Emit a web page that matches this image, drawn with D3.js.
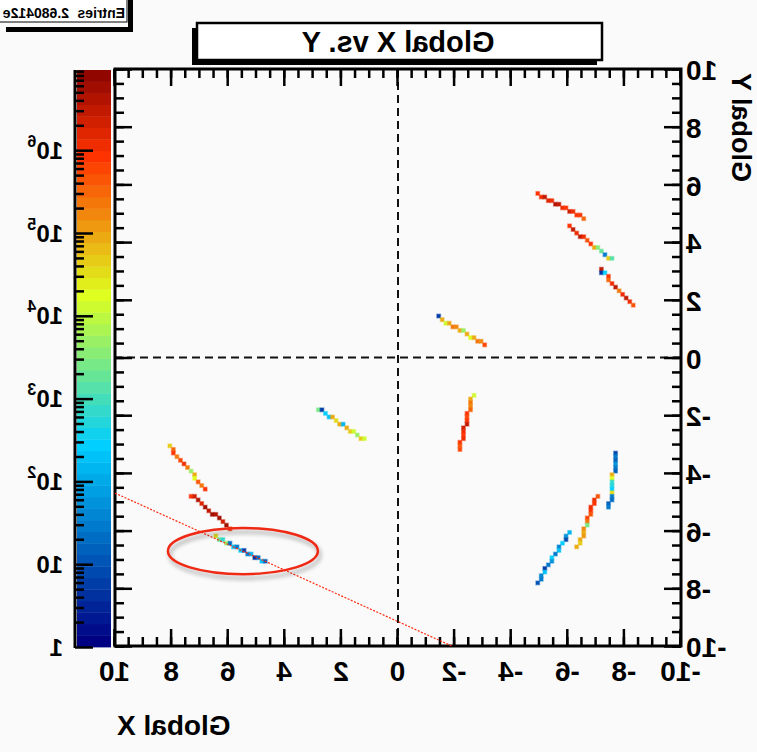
<!DOCTYPE html>
<html><head><meta charset="utf-8">
<script src="https://cdn.jsdelivr.net/npm/d3@7"></script>
<style>
body{margin:0;background:#fafafa}
text{font-family:"Liberation Sans",Arial,Helvetica,sans-serif;font-weight:bold;fill:#000}
</style>
</head><body>
<svg id="c" width="757" height="752"></svg>
<script>
// ---------------- data ----------------
const titleText = "Global X vs. Y";
const xTitle = "Global X";
const yTitle = "Global Y";
const statsLabel = "Entries";
const statsValue = "2.680412e";
const xTickLabels = [-10,-8,-6,-4,-2,0,2,4,6,8,10];
const yTickLabels = [-10,-8,-6,-4,-2,0,2,4,6,8,10];
const zTickLabels = [1,10,1e2,1e3,1e4,1e5,1e6];
const zRange = [1, 9.3e6];
const binWidth = 0.125;

// cells: [x low edge, y low edge, entries]
const track1 = [[-5.0,5.625,8e5],[-5.125,5.5,1e6],[-5.25,5.5,3e6],[-5.375,5.375,1.5e6],[-5.5,5.375,1e6],[-5.625,5.25,4e6],[-5.75,5.25,3e6],[-5.875,5.125,1e6],[-6.0,5.125,8e5],[-6.125,5.0,2e6],[-6.25,5.0,1e6],[-6.375,4.875,8e5],[-6.5,4.875,8e5],[-6.625,4.75,3e5]];
const track2 = [[-6.125,4.5,8e5],[-6.25,4.375,3e6],[-6.375,4.25,1e6],[-6.5,4.125,3e6],[-6.625,4.125,1e6],[-6.75,4.0,5e5],[-6.875,3.875,8e5],[-7.0,3.75,1e5],[-7.125,3.75,4e3],[-7.25,3.625,2e3],[-7.375,3.5,30],[-7.5,3.375,4e4],[-7.625,3.375,1.5e3]];
const track3 = [[-7.25,3.0,3e6],[-7.25,2.875,4],[-7.375,2.875,300],[-7.5,2.75,8e5],[-7.5,2.625,3e5],[-7.625,2.5,1e6],[-7.75,2.375,3e6],[-7.875,2.25,2e5],[-8.0,2.125,1e6],[-8.125,2.0,3e6],[-8.25,1.875,1e6],[-8.375,1.75,5e5]];
const track4 = [[-1.5,1.375,5],[-1.625,1.25,1e5],[-1.75,1.125,1.5e4],[-1.875,1.125,1e5],[-2.0,1.0,2e5],[-2.125,1.0,1.5e5],[-2.25,0.875,1e5],[-2.375,0.875,5e3],[-2.5,0.75,1e5],[-2.625,0.625,2e4],[-2.75,0.625,1e5],[-2.875,0.5,2e5],[-3.0,0.5,1.5e5],[-3.125,0.375,6e5]];
const track5 = [[2.75,-1.875,3e3],[2.625,-1.875,5],[2.5,-2.0,300],[2.375,-2.125,200],[2.25,-2.125,1e5],[2.125,-2.25,3e4],[2.0,-2.375,8e4],[1.875,-2.375,150],[1.75,-2.5,1e5],[1.625,-2.625,5e4],[1.5,-2.625,1.5e4],[1.375,-2.75,5e3],[1.25,-2.875,5e4],[1.125,-2.875,1.2e4]];
const track6 = [[8.0,-3.125,5e4],[7.875,-3.25,3e5],[7.875,-3.375,8e5],[7.75,-3.5,2e5],[7.625,-3.625,6e5],[7.5,-3.75,1e6],[7.375,-3.875,2e5],[7.25,-4.0,5e3],[7.125,-4.125,1e5],[7.125,-4.25,2e4],[7.0,-4.375,5e5],[6.875,-4.5,2e5],[6.75,-4.625,8e5]];
const track7 = [[7.25,-4.875,8e5],[7.125,-4.875,2e6],[7.0,-5.0,4e6],[6.875,-5.125,1.5e6],[6.75,-5.25,5e6],[6.625,-5.375,3e6],[6.5,-5.5,5e6],[6.375,-5.5,4e6],[6.25,-5.625,6e6],[6.125,-5.75,2e6],[6.0,-5.875,5e6],[5.875,-6.0,1e6]];
const track8 = [[6.375,-6.25,3e4],[6.25,-6.375,2e3],[6.125,-6.375,800],[6.0,-6.5,5e3],[5.875,-6.5,20],[5.75,-6.625,200],[5.625,-6.625,30],[5.5,-6.75,300],[5.375,-6.75,5],[5.25,-6.875,30],[5.125,-6.875,150],[5.0,-7.0,4],[4.875,-7.0,20],[4.75,-7.125,200],[4.625,-7.125,15]];
const track9 = [[-2.75,-1.375,1.5e4],[-2.625,-1.5,1e5],[-2.625,-1.625,2e5],[-2.625,-1.75,1.5e5],[-2.625,-1.875,3e5],[-2.5,-2.0,8e5],[-2.5,-2.125,6e5],[-2.5,-2.25,8e5],[-2.5,-2.375,3e6],[-2.375,-2.5,2e6],[-2.375,-2.625,1e6],[-2.375,-2.75,8e5],[-2.375,-2.875,1e6],[-2.25,-3.0,8e5],[-2.25,-3.125,5e5],[-2.25,-3.25,6e5]];
const track10 = [[-7.75,-3.375,8],[-7.75,-3.5,30],[-7.75,-3.625,15],[-7.75,-3.75,60],[-7.75,-3.875,30],[-7.75,-4.0,15],[-7.625,-4.125,1e5],[-7.625,-4.25,2e4],[-7.625,-4.375,800],[-7.625,-4.5,600],[-7.625,-4.625,300],[-7.625,-4.75,3e4],[-7.625,-4.875,30],[-7.625,-5.0,20],[-7.5,-5.125,15],[-7.5,-5.25,25]];
const track11 = [[-7.125,-4.875,5e5],[-7.0,-5.0,1e6],[-7.0,-5.125,8e5],[-6.875,-5.25,1e6],[-6.875,-5.375,8e5],[-6.875,-5.5,5e5],[-6.75,-5.625,6e5],[-6.75,-5.75,2e5],[-6.75,-5.875,3e3],[-6.625,-6.0,1.5e5],[-6.625,-6.125,1e5],[-6.625,-6.25,1.2e5],[-6.5,-6.375,8e4],[-6.5,-6.5,4e4],[-6.375,-6.625,1e5]];
const track12 = [[-6.125,-6.125,150],[-6.0,-6.25,60],[-6.0,-6.375,8],[-5.875,-6.5,300],[-5.75,-6.625,40],[-5.75,-6.75,200],[-5.625,-6.875,30],[-5.5,-7.0,250],[-5.5,-7.125,50],[-5.375,-7.25,30],[-5.25,-7.375,6],[-5.25,-7.5,200],[-5.125,-7.625,40],[-5.125,-7.75,30],[-5.0,-7.875,10]];
const tracks = [track1,track2,track3,track4,track5,track6,track7,track8,track9,track10,track11,track12];

// annotation (data coordinates)
const markerLine = [[10,-4.70],[-1.9,-10]];
const markerEllipse = {cx:5.48, cy:-6.71, rx:2.65, ry:0.80};

// ---------------- drawing ----------------
const W = 757, H = 752;
const svg = d3.select('#c');
svg.append('rect').attr('width',W).attr('height',H).attr('fill','#fafafa');
const defs = svg.append('defs');
const flt = defs.append('filter').attr('id','sh').attr('x','-20%').attr('y','-60%').attr('width','140%').attr('height','220%');
flt.append('feDropShadow').attr('dx',-2).attr('dy',4).attr('stdDeviation',2)
   .attr('flood-color','#000').attr('flood-opacity',0.35);

// whole picture is mirrored horizontally
const g = svg.append('g').attr('transform',`translate(${W},0) scale(-1,1)`);

const X0 = 76, X1 = 642, Y0 = 69, Y1 = 646;
const x = d3.scaleLinear().domain([-10,10]).range([X0,X1]);
const y = d3.scaleLinear().domain([-10,10]).range([Y1,Y0]);
const zTop = 70, zBot = 647;
const z = d3.scaleLog().domain(zRange).range([zBot,zTop]);

// ROOT-like 50 colour gradient palette
const stops=[0,.34,.61,.84,1], R=[0,0,.87,1,.51], Gc=[0,.81,1,.2,0], Bc=[.51,1,.12,0,0];
const palette=[];
(function(){
  const nc = 50; let prev = 0;
  for (let s=1;s<stops.length;s++){
    const cur = Math.floor(nc*stops[s]+1e-9);
    const n = cur - prev; prev = cur;
    for (let c=0;c<n;c++){
      palette.push(d3.rgb(255*(R[s-1]+c*(R[s]-R[s-1])/n),255*(Gc[s-1]+c*(Gc[s]-Gc[s-1])/n),255*(Bc[s-1]+c*(Bc[s]-Bc[s-1])/n)).formatHex());
    }
  }
})();
const lz0 = Math.log10(zRange[0]), lz1 = Math.log10(zRange[1]);
const colorOf = v => palette[Math.max(0,Math.min(49,Math.floor(0.01+50*(Math.log10(v)-lz0)/(lz1-lz0))))];

// cells (soft halo mimics the reference's anti-aliasing)
const cells = g.append('g');
tracks.forEach(tr=>{
  cells.selectAll(null).data(tr).enter().append('rect')
    .attr('x',d=>x(d[0])).attr('y',d=>y(d[1]+binWidth))
    .attr('width',d=>x(d[0]+binWidth)-x(d[0]))
    .attr('height',d=>y(d[1])-y(d[1]+binWidth))
    .attr('fill',d=>colorOf(d[2]))
    .attr('stroke',d=>colorOf(d[2])).attr('stroke-opacity',0.45).attr('stroke-width',1.4);
});

// zero lines
g.append('line').attr('x1',x(0)).attr('x2',x(0)).attr('y1',Y0).attr('y2',Y1)
  .attr('stroke','#111').attr('stroke-width',2).attr('stroke-dasharray','8,5');
g.append('line').attr('x1',X0).attr('x2',X1).attr('y1',y(0)).attr('y2',y(0))
  .attr('stroke','#111').attr('stroke-width',2).attr('stroke-dasharray','8,5');

// axes
function styleAxis(sel){ sel.select('.domain').remove(); sel.selectAll('line').attr('stroke','#000').attr('stroke-width',2.5); }
const xMinor = x.ticks(40), yMinor = y.ticks(40);
g.append('g').attr('transform',`translate(0,${Y1})`).call(d3.axisBottom(x).tickValues(xMinor).tickSize(-9).tickSizeOuter(0).tickFormat('')).call(styleAxis);
g.append('g').attr('transform',`translate(0,${Y0})`).call(d3.axisTop(x).tickValues(xMinor).tickSize(-9).tickSizeOuter(0).tickFormat('')).call(styleAxis);
g.append('g').attr('transform',`translate(0,${Y0})`).call(d3.axisTop(x).tickValues(xTickLabels).tickSize(-17).tickSizeOuter(0).tickFormat('')).call(styleAxis);
const xa = g.append('g').attr('transform',`translate(0,${Y1})`).call(d3.axisBottom(x).tickValues(xTickLabels).tickSize(-17).tickSizeOuter(0).tickPadding(15).tickFormat(d=>String(d))).call(styleAxis);
xa.selectAll('text').attr('font-size',28).attr('font-family','"Liberation Sans",Arial,sans-serif').attr('font-weight','bold').attr('fill','#000');

g.append('g').attr('transform',`translate(${X0},0)`).call(d3.axisLeft(y).tickValues(yMinor).tickSize(-9).tickSizeOuter(0).tickFormat('')).call(styleAxis);
g.append('g').attr('transform',`translate(${X1},0)`).call(d3.axisRight(y).tickValues(yMinor).tickSize(-9).tickSizeOuter(0).tickFormat('')).call(styleAxis);
g.append('g').attr('transform',`translate(${X1},0)`).call(d3.axisRight(y).tickValues(yTickLabels).tickSize(-17).tickSizeOuter(0).tickFormat('')).call(styleAxis);
const ya = g.append('g').attr('transform',`translate(${X0},0)`).call(d3.axisLeft(y).tickValues(yTickLabels).tickSize(-17).tickSizeOuter(0).tickPadding(5).tickFormat(d=>String(d))).call(styleAxis);
ya.selectAll('text').attr('font-size',28).attr('font-family','"Liberation Sans",Arial,sans-serif').attr('font-weight','bold').attr('fill','#000').attr('dy','0.38em');

// frame
g.append('rect').attr('x',X0).attr('y',Y0).attr('width',X1-X0).attr('height',Y1-Y0)
  .attr('fill','none').attr('stroke','#000').attr('stroke-width',3);

// axis titles
g.append('text').attr('x',X1-2).attr('y',735).attr('text-anchor','end').attr('font-size',28).text(xTitle);
g.append('text').attr('transform','translate(25,73) rotate(-90)').attr('text-anchor','end').attr('font-size',27).text(yTitle);

// colour bar
const cbX = 646, cbW = 34, bandH = (zBot-zTop)/50;
g.append('g').selectAll('rect').data(palette).enter().append('rect')
  .attr('x',cbX).attr('width',cbW)
  .attr('y',(d,i)=>zBot-(i+1)*bandH).attr('height',bandH+0.4)
  .attr('fill',d=>d);
const zMinor = z.ticks().filter(v=>!zTickLabels.includes(v));
const zAxX = 682;
g.append('g').attr('transform',`translate(${zAxX},0)`).call(d3.axisRight(z).tickValues(zMinor).tickSize(-9).tickSizeOuter(0).tickFormat('')).call(styleAxis);
g.append('g').attr('transform',`translate(${zAxX},0)`).call(d3.axisRight(z).tickValues(zTickLabels).tickSize(-18).tickSizeOuter(0).tickFormat('')).call(styleAxis);
g.append('line').attr('x1',zAxX).attr('x2',zAxX).attr('y1',zTop).attr('y2',zBot+1).attr('stroke','#000').attr('stroke-width',3);
const zl = g.append('g');
zTickLabels.forEach(v=>{
  const e = Math.round(Math.log10(v));
  const t = zl.append('text').attr('x',zAxX+12).attr('y',z(v)).attr('dy','0.36em').attr('font-size',24);
  if (e===0) t.text('1');
  else if (e===1) t.text('10');
  else { t.append('tspan').text('10'); t.append('tspan').attr('font-size',16).attr('dy','-0.75em').text(String(e)); }
});

// title box (shadow right/bottom before mirroring)
g.append('rect').attr('x',160).attr('y',28).attr('width',405).attr('height',37).attr('fill','#000');
g.append('rect').attr('x',155).attr('y',23).attr('width',405).attr('height',37).attr('fill','#fff').attr('stroke','#000').attr('stroke-width',2.5);
g.append('text').attr('x',359).attr('y',52).attr('text-anchor','middle').attr('font-size',29).text(titleText);

// stats box
g.append('rect').attr('x',624).attr('y',-2).attr('width',5).attr('height',34).attr('fill','#000');
g.append('rect').attr('x',624).attr('y',27).attr('width',127).attr('height',5).attr('fill','#000');
g.append('rect').attr('x',630).attr('y',-10).attr('width',140).attr('height',32).attr('fill','#fff').attr('stroke','#000').attr('stroke-width',1);
g.append('text').attr('x',632).attr('y',18).attr('font-size',14).text(statsLabel);
g.append('text').attr('x',688).attr('y',18).attr('font-size',14).text(statsValue);

// annotations
g.append('path').attr('d',d3.line().x(d=>x(d[0])).y(d=>y(d[1]))(markerLine))
  .attr('fill','none').attr('stroke','#ff2a10').attr('stroke-width',1.2).attr('stroke-dasharray','2,1.5');
g.append('ellipse')
  .attr('cx',x(markerEllipse.cx)).attr('cy',y(markerEllipse.cy))
  .attr('rx',x(markerEllipse.rx)-x(0)).attr('ry',y(0)-y(markerEllipse.ry))
  .attr('fill','none').attr('stroke','#ee2a14').attr('stroke-width',2.5).attr('filter','url(#sh)');
</script>
</body></html>
